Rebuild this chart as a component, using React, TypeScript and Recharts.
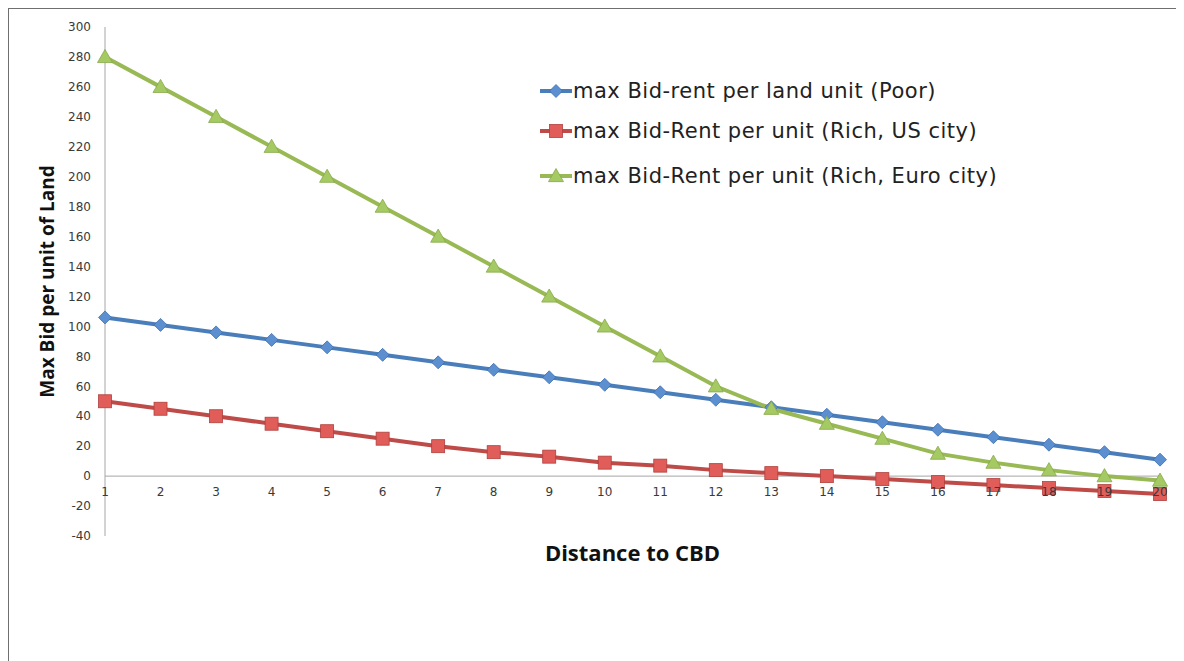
import React from "react";
import { LineChart, Line, XAxis, YAxis, ReferenceLine } from "recharts";

const distances = [1, 2, 3, 4, 5, 6, 7, 8, 9, 10, 11, 12, 13, 14, 15, 16, 17, 18, 19, 20];
const poor = [106, 101, 96, 91, 86, 81, 76, 71, 66, 61, 56, 51, 46, 41, 36, 31, 26, 21, 16, 11];
const richUS = [50, 45, 40, 35, 30, 25, 20, 16, 13, 9, 7, 4, 2, 0, -2, -4, -6, -8, -10, -12];
const richEuro = [280, 260, 240, 220, 200, 180, 160, 140, 120, 100, 80, 60, 45, 35, 25, 15, 9, 4, 0, -3];
const yTicks = [-40, -20, 0, 20, 40, 60, 80, 100, 120, 140, 160, 180, 200, 220, 240, 260, 280, 300];

const seriesNames = {
  poor: "max Bid-rent per land unit (Poor)",
  richUS: "max Bid-Rent per unit (Rich, US city)",
  richEuro: "max Bid-Rent per unit (Rich, Euro city)",
};

const data = distances.map((d, i) => ({
  d,
  poor: poor[i],
  richUS: richUS[i],
  richEuro: richEuro[i],
}));

const W = 1175;
const H = 652;
const margin = { top: 18, right: 24, left: 0, bottom: 85 };
const Y_AXIS_W = 96;
const X_AXIS_H = 40;
const Y_MIN = -40;
const Y_MAX = 300;
const plotH = H - margin.top - margin.bottom - X_AXIS_H;
const zeroY = margin.top + (plotH * Y_MAX) / (Y_MAX - Y_MIN);

const COLORS = {
  poor: "#4a7ebb",
  richUS: "#be4b48",
  richEuro: "#98b954",
};

const tickFont = "'DejaVu Sans', Verdana, sans-serif";
const titleFont = "'Open Sans', 'Noto Sans', sans-serif";

function Diamond({ cx, cy }: { cx: number; cy: number }) {
  const r = 6.5;
  return (
    <path
      d={`M${cx},${cy - r} L${cx + r},${cy} L${cx},${cy + r} L${cx - r},${cy} Z`}
      fill="#5b8fd0"
      stroke="#3d6fae"
      strokeWidth={0.8}
    />
  );
}

function Square({ cx, cy }: { cx: number; cy: number }) {
  const s = 13;
  return (
    <rect
      x={cx - s / 2}
      y={cy - s / 2}
      width={s}
      height={s}
      fill="#e05d5a"
      stroke="#b0403d"
      strokeWidth={0.8}
    />
  );
}

function Triangle({ cx, cy }: { cx: number; cy: number }) {
  const r = 7.5;
  return (
    <path
      d={`M${cx},${cy - r} L${cx + r},${cy + r * 0.75} L${cx - r},${cy + r * 0.75} Z`}
      fill="#a5c963"
      stroke="#86a94a"
      strokeWidth={0.8}
    />
  );
}

const markers: Record<string, (p: { cx: number; cy: number }) => React.ReactElement> = {
  poor: Diamond,
  richUS: Square,
  richEuro: Triangle,
};

function dotFor(key: string) {
  const Shape = markers[key];
  return (props: any) => {
    const { cx, cy, index } = props;
    if (cx == null || cy == null) return <g key={`${key}-${index}`} />;
    return (
      <g key={`${key}-${index}`}>
        <Shape cx={cx} cy={cy} />
      </g>
    );
  };
}

// category labels sit just under the zero line, not at the bottom of the plot
function XTick(props: any) {
  const { x, payload } = props;
  return (
    <text
      x={x}
      y={zeroY + 16}
      textAnchor="middle"
      dominantBaseline="central"
      fontSize={12}
      fontFamily={tickFont}
      fill="#3a3a3a"
    >
      {payload.value}
    </text>
  );
}

function SeriesLegend() {
  const keys = ["poor", "richUS", "richEuro"] as const;
  return (
    <div style={{ position: "absolute", left: 531, top: 71 }}>
      {keys.map((k, i) => {
        const Shape = markers[k];
        return (
          <div
            key={k}
            style={{
              display: "flex",
              alignItems: "center",
              height: 22,
              marginBottom: i === 0 ? 18 : 23,
            }}
          >
            <svg width={32} height={22} style={{ marginRight: 1 }}>
              <line x1={0} y1={11} x2={32} y2={11} stroke={COLORS[k]} strokeWidth={4} />
              <Shape cx={16} cy={11} />
            </svg>
            <span
              style={{
                fontFamily: tickFont,
                fontSize: 21,
                letterSpacing: 0.5,
                color: "#222",
                whiteSpace: "nowrap",
              }}
            >
              {seriesNames[k]}
            </span>
          </div>
        );
      })}
    </div>
  );
}

export default function App() {
  return (
    <div
      style={{
        position: "relative",
        width: W + 1,
        height: H,
        borderTop: "1px solid #6f6f6f",
        borderLeft: "1px solid #6f6f6f",
        background: "#fff",
      }}
    >
      <LineChart width={W} height={H} data={data} margin={margin}>
        <XAxis
          dataKey="d"
          height={X_AXIS_H}
          axisLine={false}
          tickLine={false}
          tick={<XTick />}
          interval={0}
          label={{
            value: "Distance to CBD",
            position: "center",
            dy: -3,
            style: {
              fontFamily: titleFont,
              fontSize: 22,
              fontWeight: 700,
              fill: "#111",
            },
          }}
        />
        <YAxis
          width={Y_AXIS_W}
          domain={[Y_MIN, Y_MAX]}
          ticks={yTicks}
          interval={0}
          axisLine={{ stroke: "#a6a6a6", strokeWidth: 1 }}
          tickLine={false}
          tickMargin={8}
          tick={{ fontSize: 12, fontFamily: tickFont, fill: "#3a3a3a" }}
          label={{
            value: "Max Bid per unit of Land",
            angle: -90,
            position: "center",
            dx: -10,
            style: {
              fontFamily: titleFont,
              fontSize: 19,
              fontWeight: 700,
              fill: "#111",
            },
          }}
        />
        <ReferenceLine y={0} stroke="#a6a6a6" strokeWidth={1} />
        <Line
          type="linear"
          dataKey="poor"
          name={seriesNames.poor}
          stroke={COLORS.poor}
          strokeWidth={4}
          dot={dotFor("poor")}
          isAnimationActive={false}
        />
        <Line
          type="linear"
          dataKey="richUS"
          name={seriesNames.richUS}
          stroke={COLORS.richUS}
          strokeWidth={4}
          dot={dotFor("richUS")}
          isAnimationActive={false}
        />
        <Line
          type="linear"
          dataKey="richEuro"
          name={seriesNames.richEuro}
          stroke={COLORS.richEuro}
          strokeWidth={4}
          dot={dotFor("richEuro")}
          isAnimationActive={false}
        />
      </LineChart>
      <SeriesLegend />
    </div>
  );
}
